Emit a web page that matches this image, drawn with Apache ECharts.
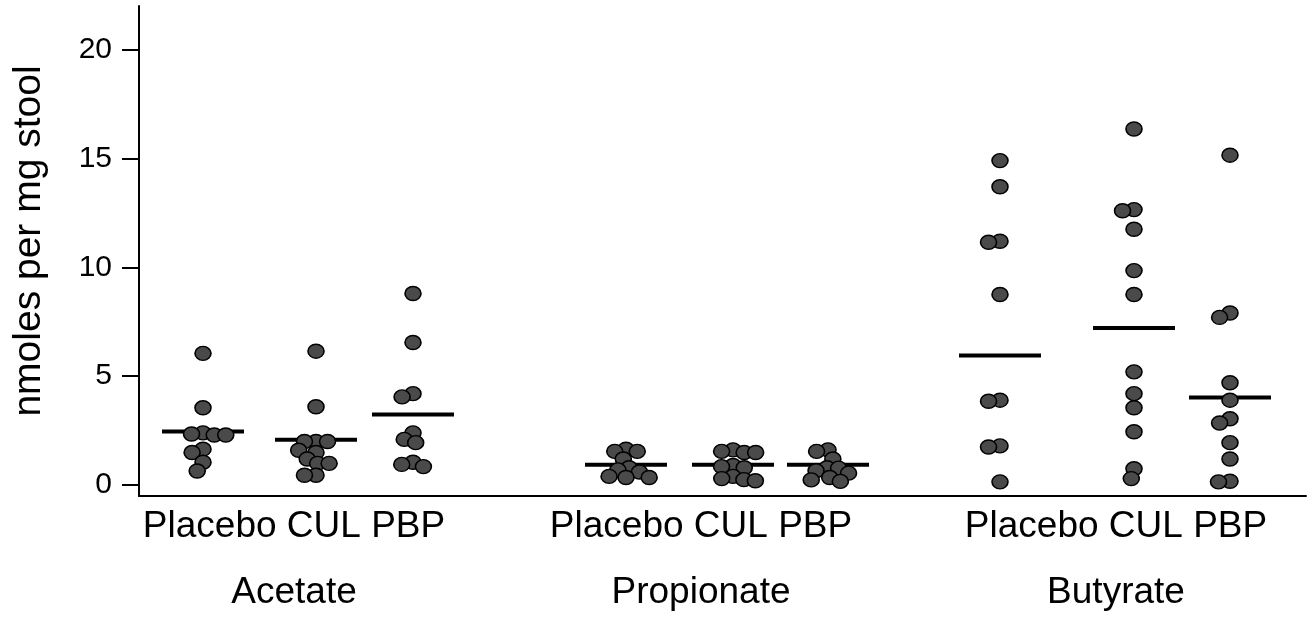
<!DOCTYPE html>
<html>
<head>
<meta charset="utf-8">
<script src="https://cdn.jsdelivr.net/npm/echarts@6/dist/echarts.min.js"></script>
<style>
    html, body { margin: 0; padding: 0; background: #fff; }
    #chart { width: 1311px; height: 621px; }
</style>
</head>
<body>
<div id="chart"></div>
<script>
// data
var groups = ['Acetate', 'Propionate', 'Butyrate'];
var treatments = ['Placebo', 'CUL', 'PBP'];
var yTicks = [0, 5, 10, 15, 20];

var acetatePlacebo = [6.05, 3.55, 2.4, 2.35, 2.3, 2.3, 1.65, 1.5, 1.05, 0.65];
var acetateCUL = [6.15, 3.6, 2.0, 2.0, 2.0, 1.6, 1.5, 1.2, 1.0, 1.0, 0.45, 0.45];
var acetatePBP = [8.8, 6.55, 4.2, 4.05, 2.4, 2.1, 1.95, 1.05, 0.95, 0.85];
var propionatePlacebo = [1.65, 1.55, 1.55, 1.2, 0.8, 0.7, 0.6, 0.4, 0.35, 0.35];
var propionateCUL = [1.62, 1.55, 1.5, 1.5, 0.9, 0.85, 0.8, 0.4, 0.3, 0.25, 0.2];
var propionatePBP = [1.62, 1.55, 1.2, 0.8, 0.78, 0.66, 0.55, 0.35, 0.24, 0.17];
var butyratePlacebo = [14.9, 13.7, 11.2, 11.15, 8.75, 3.9, 3.85, 1.8, 1.75, 0.15];
var butyrateCUL = [16.35, 12.65, 12.6, 11.75, 9.85, 8.75, 5.2, 4.2, 3.55, 2.45, 0.75, 0.3];
var butyratePBP = [15.15, 7.9, 7.7, 4.7, 3.9, 3.05, 2.85, 1.95, 1.2, 0.18, 0.15];

var centerLines = [2.46, 2.08, 3.24, 0.93, 0.93, 0.93, 5.95, 7.22, 4.02];

// layout: where each column and each group sits on the x axis
var columnPos = [0.64, 1.77, 2.74, 4.87, 5.94, 6.89, 8.61, 9.95, 10.91];
var groupPos = [1.55, 5.62, 9.77];

var columns = [
    acetatePlacebo, acetateCUL, acetatePBP,
    propionatePlacebo, propionateCUL, propionatePBP,
    butyratePlacebo, butyrateCUL, butyratePBP
];

var DOT_W = 16, DOT_H = 14, PACK = 0.72;
var FONT = 'Liberation Sans, Arial, sans-serif';

var chart = echarts.init(document.getElementById('chart'));

chart.setOption({
    animation: false,
    backgroundColor: '#fff',
    textStyle: { fontFamily: FONT, color: '#000' },
    grid: { left: 139, right: 5, top: 6, bottom: 125 },
    xAxis: {
        type: 'value',
        min: 0,
        max: 11.67,
        splitLine: { show: false },
        axisTick: { show: false },
        axisLine: { onZero: false, lineStyle: { color: '#000', width: 2 } },
        axisLabel: {
            customValues: groupPos,
            margin: 11,
            color: '#000',
            formatter: function (v) {
                var i = 0;
                groupPos.forEach(function (p, k) {
                    if (Math.abs(p - v) < Math.abs(groupPos[i] - v)) i = k;
                });
                return '{a|' + treatments.join(' ') + '}\n{b|' + groups[i] + '}';
            },
            rich: {
                a: { fontSize: 37, lineHeight: 40, color: '#000', fontFamily: FONT },
                b: { fontSize: 37, lineHeight: 91, color: '#000', fontFamily: FONT }
            }
        }
    },
    yAxis: {
        type: 'value',
        min: -0.5,
        max: 22,
        name: 'nmoles per mg stool',
        nameLocation: 'middle',
        nameGap: 90,
        nameTextStyle: { fontSize: 39, color: '#000', fontFamily: FONT, padding: [0, 0, 0, 20] },
        splitLine: { show: false },
        axisLine: { show: true, lineStyle: { color: '#000', width: 2 } },
        axisTick: { show: true, length: 17, customValues: yTicks, lineStyle: { color: '#000', width: 2 } },
        axisLabel: { customValues: yTicks, margin: 27, fontSize: 30, color: '#000', fontFamily: FONT }
    },
    series: []
});

// pixels per data unit, from the chart's own scales
var p0 = chart.convertToPixel({ gridIndex: 0 }, [0, 0]);
var p1 = chart.convertToPixel({ gridIndex: 0 }, [1, 1]);
var xs = p1[0] - p0[0];
var ys = p0[1] - p1[1];

// simple beeswarm: put each dot as close to the column centre as it can go
function swarm(vals, cx) {
    var placed = [];
    var out = [];
    vals.slice().sort(function (a, b) { return b - a; }).forEach(function (v) {
        var py = v * ys;
        var cands = [0];
        var blocks = [];
        placed.forEach(function (q) {
            var dy = (py - q.py) / DOT_H;
            if (Math.abs(dy) < PACK) {
                var w = DOT_W * Math.sqrt(PACK * PACK - dy * dy);
                blocks.push([q.px - w, q.px + w]);
                cands.push(q.px - w, q.px + w);
            }
        });
        var best = null;
        cands.forEach(function (c) {
            var ok = blocks.every(function (b) { return c <= b[0] + 1e-6 || c >= b[1] - 1e-6; });
            if (ok && (best === null || Math.abs(c) < Math.abs(best) - 1e-6)) best = c;
        });
        placed.push({ px: best, py: py });
        out.push([cx + best / xs, v]);
    });
    return out;
}

var dots = [];
columns.forEach(function (vals, i) {
    dots = dots.concat(swarm(vals, columnPos[i]));
});

var lines = centerLines.map(function (v, i) { return [columnPos[i], v]; });

chart.setOption({
    series: [
        {
            name: 'centre',
            type: 'scatter',
            symbol: 'rect',
            symbolSize: [82, 4],
            z: 2,
            itemStyle: { color: '#000', opacity: 1 },
            data: lines
        },
        {
            name: 'samples',
            type: 'scatter',
            symbol: 'circle',
            symbolSize: [DOT_W, DOT_H],
            z: 3,
            itemStyle: { color: '#4a4a4a', borderColor: '#000', borderWidth: 1.5, opacity: 1 },
            data: dots
        }
    ]
});
</script>
</body>
</html>
